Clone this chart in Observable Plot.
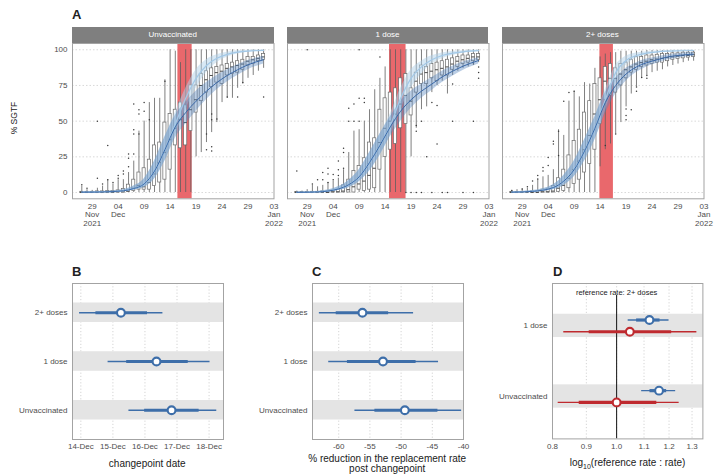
<!DOCTYPE html>
<html><head><meta charset="utf-8">
<script src="https://cdn.jsdelivr.net/npm/d3@7"></script>
<script src="https://cdn.jsdelivr.net/npm/@observablehq/plot@0.6"></script>
<style>
body{margin:0;background:#fff;font-family:"Liberation Sans",Arial,sans-serif;}
#root{position:relative;width:716px;height:476px;overflow:hidden;background:#fff;}
.tag{position:absolute;font-weight:bold;font-size:13px;line-height:13px;color:#222;}
.strip{position:absolute;background:#7f7f7f;color:#fff;font-size:8px;text-align:center;line-height:16px;height:16px;}
.ttl{position:absolute;font-size:10px;color:#1a1a1a;white-space:nowrap;transform:translate(-50%,-50%);}
</style></head><body><div id="root"></div>
<script>
// ================= DATA =================
const facetNames = ["Unvaccinated", "1 dose", "2+ doses"];
const firstBoxDay = "2021-11-27";
const xTickDates = ["2021-11-29","2021-12-04","2021-12-09","2021-12-14","2021-12-19","2021-12-24","2021-12-29","2022-01-03"];
const xTickLabels = ["29\nNov\n2021","04\nDec","09","14","19","24","29","03\nJan\n2022"];
const yTicksA = [0, 25, 50, 75, 100];

// daily boxplots of % SGTF (whisker low, q1, median, q3, whisker high)
const unvLo  = [0,0,0,0,0,0,0,0,0,0,0,0,0,0,0,0,0,0,0,0,0,0,25,28,35,42,49,63,66,66,73,76,80,82,85,87];
const unvQ1  = [0,0,0,0,0,0,0,0,0,0.5,1,2,2,2,4.5,7,9,16,33,31,33,43,56,64,70,74,77,76,82,83,84,86,89,90,92,93];
const unvMed = [0,0,0,0,0,0,0,0.5,0.5,1,3,5,4,7,13,21,28,37,45,51,49,58,65,75,79,82,84,85,87,88,89,90,92,93,94,95];
const unvQ3  = [0.5,0.5,0.5,0.8,0.8,1,1,1.5,2.5,5.5,9,14,17,23,33,35,49,55,58,63,61,75,75,83,85,87,88,89,90,91,92,93,95,95,96,97];
const unvHi  = [4.5,2,1.5,3,4.5,9,6,9,9,14,22,43,50,63,66,66,79,100,99,91,100,100,100,100,100,100,100,100,100,100,100,100,100,100,100,100];
const unvOut = [[0,5.5],[1,3],[3,10],[3,50],[4,6],[5,9],[5,33],[6,7],[7,10],[7,12],[8,15],[8,13],[9,18],[9,24],[9,27],[10,27],[10,41],[10,44],[10,62],[11,41],[11,55],[11,58],[12,57],[12,63],[13,51],[16,78],[24,30],[24,41],[25,29],[25,32],[25,51],[25,55],[26,51.5],[28,67],[30,67],[31,77],[35,67]];

const oneLo  = [0,0,0,0,0,0,0,0,0,0,0,0,0,0,0,0,0,0,0,0,0,0,25,45,58,60,70,75,78,69,82,85,87,88,90,91];
const oneQ1  = [0,0,0,0,0,0,0,0,0,0,0,0,2,1,2,3,16,25,30,34,45,48,54,70,76,76,80,78,82,82,86,88,90,91,92,93];
const oneMed = [0,0,0,0,0,0,0,0.5,0.5,1,2,4,6,8,12,17,35,45,50,55,62,68,64,78,83,84,85,86,87,88,90,92,93,94,95,95];
const oneQ3  = [0.3,0.3,0.3,0.5,0.5,0.8,1,1.5,2,5,9,15,18.5,24,35,38,58,66,70,73,80,83,73,84,89,88,90,91,92,93,94,95,96,96,97,97];
const oneHi  = [1,1,2,5,4,5,7,8,10,16,28,43,44,50,58,72,80,88,100,100,100,100,100,100,100,100,100,100,100,100,100,100,100,100,100,100];
const oneOut = [[0,15],[2,100],[3,6],[4,9],[5,14],[5,9],[6,17],[6,13],[6,7],[7,12.6],[7,9],[8,22],[8,16],[8,12],[9,31],[9,28],[9,17],[10,59],[10,50],[11,62],[11,50],[12,100],[12,66],[12,50],[13,63],[13,66],[16,95],[21,0],[22,0],[23,0],[23,47],[23,43],[24,0],[24,50],[25,25],[26,0],[26,63],[27,34],[27,61],[28,0],[29,0],[30,76],[30,50],[32,0],[34,0],[34,90],[34,50],[35,88],[35,84],[35,80]];

const twoLo  = [0,0,0,0,0,0,0,0,0,0,0,0,0,0,0,0,0,18,30,34,41,49,60,69,74,80,82,84,85,86,88,89,90,91,92,92];
const twoQ1  = [0,0,0,0,0,0,0,0,0,0.5,1,3,6,9,14,20,30,48,65,68,70,75,80,84,86,88,89,90,91,91,92,93,93.5,94,94.5,95];
const twoMed = [0,0,0,0,0,0,0.5,0.5,1,3,5,10,16,22,30,40,55,65,78,80,80,83,86,88,90,91,92,93,93.5,94,94.5,95,95.5,96,96,96.5];
const twoQ3  = [0.3,0.3,0.5,0.5,0.8,1,2,2.5,4.5,10,16,26,36,44,56,64,76,80,88,90,87,90,91,93,95,95,96,96,96.5,97,97,97.5,97.5,98,98,98];
const twoHi  = [1.5,2,2.5,3,5,9,11,12,16,44,40,64,71,67,77,76,87,95,97,98,98,99,99,99,99,99,99.5,99.5,99.5,99.5,99.5,99.5,99.5,99.5,99.5,99.5];
const twoOut = [[0,1.5],[2,2.5],[3,4],[4,8],[5,9.5],[5,12],[6,17.5],[6,15],[7,24.5],[7,19],[8,34],[8,36],[9,43],[9,26],[10,64],[11,70],[12,71],[18,33],[20,41],[22,58.5],[22,54],[22,51],[23,58],[24,71],[24,74],[25,80.5],[26,82],[26,80]];

// model fits (day index since first box day): fitted (dark) and counterfactual (light)
const fitDays = [0,4,8,10,12,14,16,18,20,22,24,26,28,30,32,35];
const unvDarkMid  = [0.2,0.4,1.2,2.8,6,15,30,46,56,64,71,77,82,86,89.5,93];
const unvDarkLo   = [0.05,0.2,0.7,1.6,3.5,9.5,22,38,48,57,65,72,77.5,82,86,90];
const unvDarkHi   = [0.5,0.8,2,4.5,9.5,22,39,54,63,71,77,82,86,89.5,92.5,95.5];
const unvLightMid = [0.2,0.4,1.2,2.8,6,15,30,48,66,80,89,94,96.8,98.3,99.1,99.6];
const unvLightLo  = [0.05,0.2,0.7,1.6,3.5,9.5,22,40,58,73,84,91,94.8,97,98.3,99.2];
const unvLightHi  = [0.5,0.8,2,4.5,9.5,22,39,56,73,86,93,96.5,98.3,99.3,99.7,99.9];

const oneDarkMid  = [0.1,0.4,2.5,5.5,11,21,33,46,57,65,71,76,81,85,88.5,92.5];
const oneDarkLo   = [0.03,0.2,1.4,3.4,7.5,15,26,39,50,59,66,71.5,77,81.5,85.5,90];
const oneDarkHi   = [0.3,0.8,4,8.5,16,28,41,53,64,71,76,80.5,85,88.5,91.5,94.5];
const oneLightMid = [0.1,0.4,2.5,5.5,11,21,33,47,66,80,88,93,96,97.6,98.6,99.4];
const oneLightLo  = [0.03,0.2,1.4,3.4,7.5,15,26,40,58,73,83,90,93.8,96,97.5,98.8];
const oneLightHi  = [0.3,0.8,4,8.5,16,28,41,55,73,86,92,95.8,97.8,98.8,99.4,99.8];

const twoDarkMid  = [0.2,0.8,3.5,8,16,29,45,63,75,83,88,91,93,95,96,97];
const twoDarkLo   = [0.05,0.4,2,5,11,22,37,55,69,78,84,88,90.5,92.8,94.2,95.5];
const twoDarkHi   = [0.5,1.4,5.5,12,22,37,53,70,80,87,91,93.5,95,96.5,97.3,98.2];
const twoLightMid = [0.2,0.8,3.5,8,16,29,45,65,84,92.5,96,97.7,98.5,99,99.3,99.5];
const twoLightLo  = [0.05,0.4,2,5,11,22,37,57,78,89,94,96.5,97.7,98.4,98.9,99.2];
const twoLightHi  = [0.5,1.4,5.5,12,22,37,53,72,89,95.5,97.8,98.7,99.2,99.5,99.7,99.8];

// Panel B: changepoint date (day of December)
const groupsBC = ["2+ doses", "1 dose", "Unvaccinated"];
const cpMed  = [15.25, 16.36, 16.83];
const cpLo95 = [13.96, 14.85, 15.50];
const cpHi95 = [16.56, 18.03, 18.24];
const cpLoIn = [14.47, 15.43, 15.99];
const cpHiIn = [16.08, 17.35, 17.69];
const bTicks = [14, 15, 16, 17, 18];

// Panel C: % reduction in replacement rate
const redMed  = [-56.2, -52.9, -49.4];
const redLo95 = [-63.1, -61.6, -57.4];
const redHi95 = [-48.0, -44.0, -40.3];
const redLoIn = [-60.4, -58.6, -54.2];
const redHiIn = [-52.0, -47.6, -44.1];
const cTicks = [-60, -55, -50, -45, -40];

// Panel D: reference rate : rate (reference 2+ doses)
const groupsD = ["1 dose", "Unvaccinated"];
const preMed  = [1.121, 1.159];
const preLo95 = [1.041, 1.091];
const preHi95 = [1.200, 1.228];
const preLoIn = [1.072, 1.123];
const preHiIn = [1.163, 1.190];
const postMed  = [1.047, 1.000];
const postLo95 = [0.832, 0.816];
const postHi95 = [1.322, 1.243];
const postLoIn = [0.909, 0.878];
const postHiIn = [1.211, 1.150];
const dTicks = [0.8, 0.9, 1.0, 1.1, 1.2, 1.3];
const dTickLabels = ["0.8", "0.9", "1.0", "1.1", "1.2", "1.3"];

// ================= DRAWING =================
const root = document.getElementById("root");
const FONT = '"Liberation Sans", Arial, sans-serif';
const BLUE = "#3d6ea9", RED = "#bf2a2f";
const DAY = 86400000;
const t0 = Date.parse(firstBoxDay + "T00:00:00Z");
const dayDate = i => new Date(t0 + i * DAY);
const decDate = d => new Date(Date.UTC(2021, 11, 1) + (d - 1) * DAY);

function place(el, left, top) {
  el.style.position = "absolute";
  el.style.left = left + "px";
  el.style.top = top + "px";
  root.appendChild(el);
}
function div(cls, html, left, top, extra) {
  const e = document.createElement("div");
  e.className = cls; e.innerHTML = html;
  e.style.left = left + "px"; e.style.top = top + "px";
  if (extra) Object.assign(e.style, extra);
  root.appendChild(e);
  return e;
}

const facets = [
  {lo: unvLo, q1: unvQ1, med: unvMed, q3: unvQ3, hi: unvHi, out: unvOut,
   dm: unvDarkMid, dl: unvDarkLo, dh: unvDarkHi, lm: unvLightMid, ll: unvLightLo, lh: unvLightHi, g: 2},
  {lo: oneLo, q1: oneQ1, med: oneMed, q3: oneQ3, hi: oneHi, out: oneOut,
   dm: oneDarkMid, dl: oneDarkLo, dh: oneDarkHi, lm: oneLightMid, ll: oneLightLo, lh: oneLightHi, g: 1},
  {lo: twoLo, q1: twoQ1, med: twoMed, q3: twoQ3, hi: twoHi, out: twoOut,
   dm: twoDarkMid, dl: twoDarkLo, dh: twoDarkHi, lm: twoLightMid, ll: twoLightLo, lh: twoLightHi, g: 0}
];

const FW = 201.5, FH = 155.3, FTOP = 43;
const FLEFT = [72, 286.8, 501.6];
const xDomA = [new Date(Date.UTC(2021, 10, 25, 5)), new Date(Date.UTC(2022, 0, 3))];
const yDomA = [-4.4, 104.4];

facets.forEach((F, k) => {
  const ML = k === 0 ? 34 : 4, MR = 14, MT = 2, MB = 36;
  const boxes = F.med.map((m, i) => ({d: dayDate(i), a: dayDate(i - 0.3), b: dayDate(i + 0.3),
    lo: F.lo[i], q1: F.q1[i], med: m, q3: F.q3[i], hi: F.hi[i]}));
  const outl = F.out.map(([i, v]) => ({d: dayDate(i), v}));
  const fit = fitDays.map((i, j) => ({d: dayDate(i), dm: F.dm[j], dl: F.dl[j], dh: F.dh[j], lm: F.lm[j], ll: F.ll[j], lh: F.lh[j]}));
  const cp = [{a: decDate(cpLo95[F.g]), b: decDate(cpHi95[F.g])}];
  const ticks = xTickDates.map((s, j) => ({d: new Date(s + "T00:00:00Z"), t: xTickLabels[j]}));
  const svg = Plot.plot({
    width: ML + FW + MR, height: MT + FH + MB,
    marginLeft: ML, marginRight: MR, marginTop: MT, marginBottom: MB,
    style: {background: "transparent", fontFamily: FONT, fontSize: "8px", color: "#4d4d4d", overflow: "visible"},
    x: {type: "utc", domain: xDomA, axis: null},
    y: {domain: yDomA, ticks: yTicksA, axis: k === 0 ? "left" : null, tickSize: 0, tickPadding: 5, label: null},
    marks: [
      Plot.ruleY(yTicksA, {stroke: "#cfcfcf", strokeDasharray: "1.5,2", strokeWidth: 0.8}),
      Plot.rect(cp, {x1: "a", x2: "b", y1: () => yDomA[0], y2: () => yDomA[1], fill: "#e9686c"}),
      Plot.ruleX(boxes, {x: "d", y1: "lo", y2: "hi", stroke: "#5e5e5e", strokeWidth: 0.8}),
      Plot.rect(boxes, {x1: "a", x2: "b", y1: "q1", y2: "q3", fill: "white", stroke: "#6a6a6a", strokeWidth: 0.7}),
      Plot.ruleY(boxes, {y: "med", x1: "a", x2: "b", stroke: "#4a4a4a", strokeWidth: 1}),
      Plot.dot(outl, {x: "d", y: "v", r: 0.75, fill: "#3a3a3a", stroke: null}),
      Plot.areaY(fit, {x: "d", y1: "ll", y2: "lh", fill: "#b2d2ea", fillOpacity: 0.5, curve: "monotone-x"}),
      Plot.areaY(fit, {x: "d", y1: "dl", y2: "dh", fill: "#5584bf", fillOpacity: 0.4, curve: "monotone-x"}),
      Plot.line(fit, {x: "d", y: "lm", stroke: "#a3c9e8", strokeWidth: 1.2, curve: "monotone-x"}),
      Plot.line(fit, {x: "d", y: "dm", stroke: "#3a68a8", strokeWidth: 1, curve: "monotone-x"}),
      Plot.frame({stroke: "#a3a3a3", strokeWidth: 1}),
      Plot.text(ticks, {x: "d", text: "t", frameAnchor: "bottom", lineAnchor: "top", dy: 4, fontSize: 8, fill: "#4d4d4d", lineHeight: 1.05})
    ]
  });
  place(svg, FLEFT[k] - ML, FTOP - MT);
  div("strip", facetNames[k], FLEFT[k], 27, {width: FW + "px"});
});

div("ttl", "% SGTF", 14, 118, {transform: "translate(-50%,-50%) rotate(-90deg)", fontSize: "8.5px"});
div("tag", "A", 72, 8);

// ---------- forest panels ----------
function forest(opts) {
  const {left, top, w, h, xDom, xType, xTicks, xLabels, yDom, pos, names, grid, band, series, extra, ML} = opts;
  const MR = 14, MT = 3, MB = 42;
  const tickRows = xTicks.map((v, i) => ({v, t: xLabels[i]}));
  const marks = [
    Plot.ruleX(grid, {stroke: "#c9c9c9", strokeDasharray: "1.2,2", strokeWidth: 0.8}),
    Plot.rect(pos, {x1: () => xDom[0], x2: () => xDom[1], y1: p => p - band, y2: p => p + band, fill: "#e4e4e4"})
  ];
  (extra || []).forEach(m => marks.push(m));
  series.forEach(s => {
    const rows = pos.map((p, i) => ({y: p + s.off, m: s.med[i], l: s.lo[i], h: s.hi[i], li: s.loIn[i], hi: s.hiIn[i]}));
    marks.push(Plot.ruleY(rows, {y: "y", x1: "l", x2: "h", stroke: s.color, strokeWidth: 1.4}));
    marks.push(Plot.ruleY(rows, {y: "y", x1: "li", x2: "hi", stroke: s.color, strokeWidth: 3.2}));
    marks.push(Plot.dot(rows, {x: "m", y: "y", r: 3.9, fill: "white", stroke: s.color, strokeWidth: 2.1}));
  });
  marks.push(Plot.frame({stroke: "#a3a3a3", strokeWidth: 1}));
  marks.push(Plot.text(tickRows, {x: "v", text: "t", frameAnchor: "bottom", lineAnchor: "top", dy: 4, fontSize: 8, fill: "#4d4d4d"}));
  const svg = Plot.plot({
    width: ML + w + MR, height: MT + h + MB,
    marginLeft: ML, marginRight: MR, marginTop: MT, marginBottom: MB,
    style: {background: "transparent", fontFamily: FONT, fontSize: "8px", color: "#4d4d4d", overflow: "visible"},
    x: {type: xType, domain: xDom, axis: null},
    y: {domain: yDom, ticks: pos, tickFormat: v => names[pos.indexOf(v)], tickSize: 0, tickPadding: 5, label: null},
    marks
  });
  place(svg, left - ML, top - MT);
}

const posBC = [3, 2, 1];
forest({left: 71.7, top: 283.3, w: 151, h: 156, ML: 70, xType: "linear", xDom: [13.74, 18.45], xTicks: bTicks,
  xLabels: bTicks.map(d => d + "-Dec"), yDom: [0.4, 3.6], pos: posBC, names: groupsBC, grid: bTicks, band: 0.2,
  series: [{off: 0, med: cpMed, lo: cpLo95, hi: cpHi95, loIn: cpLoIn, hiIn: cpHiIn, color: BLUE}]});
forest({left: 311.7, top: 283.3, w: 151, h: 156, ML: 70, xType: "linear", xDom: [-64.2, -40], xTicks: cTicks,
  xLabels: cTicks.map(d => String(d)), yDom: [0.4, 3.6], pos: posBC, names: groupsBC, grid: cTicks, band: 0.2,
  series: [{off: 0, med: redMed, lo: redLo95, hi: redHi95, loIn: redLoIn, hiIn: redHiIn, color: BLUE}]});
forest({left: 552.3, top: 283.3, w: 150.4, h: 155.4, ML: 80, xType: "log", xDom: [0.8, 1.35], xTicks: dTicks,
  xLabels: dTickLabels, yDom: [0.4, 2.6], pos: [2, 1], names: groupsD, grid: dTicks, band: 0.165,
  extra: [
    Plot.ruleX([1], {y1: 0.4, y2: 2.43, stroke: "#111", strokeWidth: 1}),
    Plot.text(["reference rate: 2+ doses"], {x: () => 1, text: d => d, frameAnchor: "top", dy: 6, fontSize: 7.5, fill: "#1a1a1a"})
  ],
  series: [
    {off: 0.083, med: preMed, lo: preLo95, hi: preHi95, loIn: preLoIn, hiIn: preHiIn, color: BLUE},
    {off: -0.083, med: postMed, lo: postLo95, hi: postHi95, loIn: postLoIn, hiIn: postHiIn, color: RED}
  ]});

div("tag", "B", 72, 265);
div("tag", "C", 312, 265);
div("tag", "D", 553, 265);
div("ttl", "changepoint date", 147.2, 463.3);
div("ttl", "% reduction in the replacement rate<br>post changepoint", 387.2, 464.3, {textAlign: "center", lineHeight: "10px"});
div("ttl", "log<sub style='font-size:7px'>10</sub>(reference rate : rate)", 627.5, 463.3);
</script></body></html>
